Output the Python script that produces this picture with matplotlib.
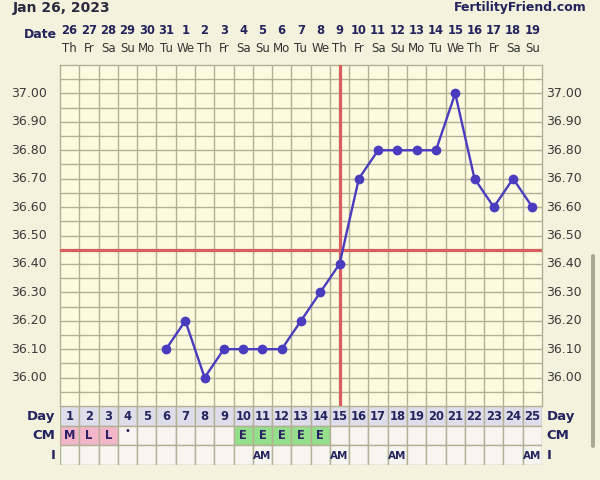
import matplotlib
matplotlib.use("Agg")
import matplotlib.pyplot as plt
from matplotlib.patches import Rectangle, FancyBboxPatch
import numpy as np

# ---- data ----
cycle_days = list(range(1, 26))
dates = ["26", "27", "28", "29", "30", "31", "1", "2", "3", "4", "5", "6", "7",
         "8", "9", "10", "11", "12", "13", "14", "15", "16", "17", "18", "19"]
weekdays = ["Th", "Fr", "Sa", "Su", "Mo", "Tu", "We", "Th", "Fr", "Sa", "Su", "Mo", "Tu",
            "We", "Th", "Fr", "Sa", "Su", "Mo", "Tu", "We", "Th", "Fr", "Sa", "Su"]
temp_days = [6, 7, 8, 9, 10, 11, 12, 13, 14, 15, 16, 17, 18, 19, 20, 21, 22, 23, 24, 25]
temps = [36.10, 36.20, 36.00, 36.10, 36.10, 36.10, 36.10, 36.20, 36.30, 36.40,
         36.70, 36.80, 36.80, 36.80, 36.80, 37.00, 36.70, 36.60, 36.70, 36.60]
coverline = 36.45
ovulation_day = 15
cm_values = ["M", "L", "L", "•", "", "", "", "", "", "E", "E", "E", "E", "E",
             "", "", "", "", "", "", "", "", "", "", ""]
cm_colors = {"M": "#f3b5c9", "L": "#f3b5c9", "E": "#93df8c"}
i_values = ["", "", "", "", "", "", "", "", "", "", "AM", "", "", "", "AM", "", "",
            "AM", "", "", "", "", "", "", "AM"]
ytick_vals = [36.00, 36.10, 36.20, 36.30, 36.40, 36.50, 36.60, 36.70, 36.80, 36.90, 37.00]

# ---- styling ----
W, H = 600, 480
fig = plt.figure(figsize=(6, 4.8), dpi=100)
fig.patch.set_facecolor("#f4f2dc")
navy = "#23235e"
gridc = "#b3b096"
plot_bg = "#fcfadf"

def fx(px):
    return px / W

def fy(py):
    return 1 - py / H

left, right = 60, 542
top, temp_bot = 65, 406
row_h = 19.6
tab_bot = temp_bot + 3 * row_h

# temperature axes
ax = fig.add_axes([fx(left), fy(temp_bot), fx(right - left), (temp_bot - top) / H])
ax.set_facecolor(plot_bg)
ax.set_xlim(0.5, 25.5)
ax.set_ylim(35.90, 37.10)
for xv in np.arange(1.5, 25.5, 1.0):
    ax.axvline(xv, color=gridc, lw=1.0, zorder=1)
for yv in np.arange(35.95, 37.10, 0.05):
    ax.axhline(yv, color=gridc, lw=1.0, zorder=1)
ax.set_xticks([])
ax.set_yticks([])
for s in ax.spines.values():
    s.set_color(gridc)
    s.set_linewidth(1.0)

ax.axhline(coverline, color="#d75f5d", lw=2.3, zorder=3)
ax.axvline(ovulation_day, color="#d75f5d", lw=2.3, zorder=3)
ax.plot(temp_days, temps, color="#4a3cbf", lw=1.7, marker="o", markersize=6,
        markerfacecolor="#4a3cbf", markeredgecolor="#4a3cbf", zorder=4)

for t in ytick_vals:
    ax.text(-0.2, t, f"{t:.2f}", ha="right", va="center", fontsize=9, color="#3a3a3a")
    ax.text(25.7, t, f"{t:.2f}", ha="left", va="center", fontsize=9, color="#3a3a3a")

# table axes
tax = fig.add_axes([fx(left), fy(tab_bot), fx(right - left), (tab_bot - temp_bot) / H])
tax.set_xlim(0.5, 25.5)
tax.set_ylim(3, 0)
tax.axis("off")
for i, d in enumerate(cycle_days):
    x0 = d - 0.5
    tax.add_patch(Rectangle((x0, 0), 1, 1, facecolor="#dedde9", edgecolor=gridc, lw=1.0))
    tax.text(d, 0.52, str(d), ha="center", va="center", fontsize=8.3,
             fontweight="bold", color=navy)
    cm = cm_values[i]
    tax.add_patch(Rectangle((x0, 1), 1, 1, facecolor=cm_colors.get(cm, "#f6f5ef"),
                            edgecolor=gridc, lw=1.0))
    if cm == "•":
        tax.text(d, 1.3, cm, ha="center", va="center", fontsize=7, color=navy)
    elif cm:
        tax.text(d, 1.52, cm, ha="center", va="center", fontsize=8.3,
                 fontweight="bold", color="#2b1f66")
    tax.add_patch(Rectangle((x0, 2), 1, 1, facecolor="#f6f5ef", edgecolor=gridc, lw=1.0))
    if i_values[i]:
        tax.text(d, 2.55, i_values[i], ha="center", va="center", fontsize=7.5,
                 fontweight="bold", color=navy)

for k, lab in enumerate(["Day", "CM", "I"]):
    tax.text(0.25, k + 0.52, lab, ha="right", va="center", fontsize=9.5,
             fontweight="bold", color=navy)
    tax.text(25.75, k + 0.52, lab, ha="left", va="center", fontsize=9.5,
             fontweight="bold", color=navy)

# header
fig.text(fx(13), fy(8), "Jan 26, 2023", ha="left", va="center", fontsize=10,
         fontweight="bold", color="#2a2a40")
fig.text(fx(587), fy(8), "FertilityFriend.com", ha="right", va="center", fontsize=9,
         fontweight="bold", color=navy)
fig.text(fx(57), fy(35), "Date", ha="right", va="center", fontsize=9,
         fontweight="bold", color=navy)
col_w = (right - left) / 25
for i in range(25):
    cx = left + col_w * (i + 0.5)
    fig.text(fx(cx), fy(31), dates[i], ha="center", va="center", fontsize=8.3,
             fontweight="bold", color=navy)
    fig.text(fx(cx), fy(48), weekdays[i], ha="center", va="center", fontsize=8.5,
             color="#333333")

# scrollbar
fig.patches.append(FancyBboxPatch((fx(591), fy(448)), fx(4), (448 - 254) / H,
                                  boxstyle="round,pad=0,rounding_size=0.004",
                                  transform=fig.transFigure, facecolor="#a9a894",
                                  edgecolor="none"))

fig.savefig("out.png", dpi=100, facecolor=fig.get_facecolor())
